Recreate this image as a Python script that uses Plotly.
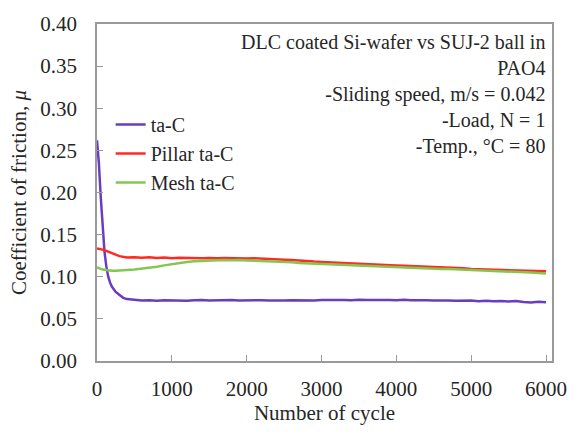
import plotly.graph_objects as go

cycles_early = [0, 25, 50, 75, 100, 125, 150, 175, 200, 250, 300, 350, 400]
cycles_late = list(range(500, 6001, 100))
cycles = cycles_early + cycles_late

ta_c = [0.262, 0.235, 0.195, 0.160, 0.130, 0.112, 0.100, 0.093, 0.088, 0.082, 0.078, 0.075, 0.0735,
        0.0725, 0.0718, 0.0722, 0.0715, 0.0720, 0.0717, 0.0722, 0.0716, 0.0720, 0.0724, 0.0718, 0.0721,
        0.0716, 0.0723, 0.0719, 0.0722, 0.0717, 0.0721, 0.0718, 0.0723, 0.0719, 0.0722, 0.0720, 0.0724,
        0.0719, 0.0723, 0.0726, 0.0721, 0.0725, 0.0722, 0.0727, 0.0723, 0.0726, 0.0721, 0.0724, 0.0722,
        0.0726, 0.0720, 0.0724, 0.0721, 0.0718, 0.0723, 0.0719, 0.0716, 0.0721, 0.0717, 0.0710, 0.0716,
        0.0708, 0.0713, 0.0705, 0.0711, 0.0700, 0.0694, 0.0702, 0.0698]

pillar = [0.1336, 0.1333, 0.1328, 0.1322, 0.1315, 0.1305, 0.1298, 0.1290, 0.1280, 0.1262, 0.1245, 0.1232, 0.1228,
          0.1232, 0.1226, 0.1230, 0.1224, 0.1228, 0.1221, 0.1227, 0.1223, 0.1226, 0.1220, 0.1224, 0.1219,
          0.1223, 0.1218, 0.1221, 0.1216,
          0.1219, 0.1213, 0.1210, 0.1207, 0.1203, 0.1199, 0.1190, 0.1187, 0.1180, 0.1176,
          0.1171, 0.1169, 0.1163, 0.1160, 0.1155, 0.1151, 0.1148, 0.1142, 0.1139, 0.1134,
          0.1131, 0.1128, 0.1122, 0.1119, 0.1115, 0.1110, 0.1108, 0.1103, 0.1100, 0.1092,
          0.1090, 0.1086, 0.1082, 0.1079, 0.1074, 0.1072, 0.1070, 0.1068, 0.1066, 0.1064]

mesh = [0.1110, 0.1100, 0.1090, 0.1085, 0.1082, 0.1078, 0.1076, 0.1074, 0.1072, 0.1070, 0.1071, 0.1075, 0.1080,
        0.1085, 0.1095, 0.1107, 0.1120, 0.1135, 0.1150, 0.1163, 0.1175, 0.1185, 0.1190, 0.1196, 0.1193,
        0.1198, 0.1195, 0.1199, 0.1194,
        0.1191, 0.1187, 0.1184, 0.1180, 0.1176, 0.1171, 0.1164, 0.1160, 0.1154, 0.1150,
        0.1147, 0.1143, 0.1140, 0.1136, 0.1133, 0.1128, 0.1124, 0.1120, 0.1117, 0.1113,
        0.1110, 0.1108, 0.1103, 0.1101, 0.1098, 0.1093, 0.1091, 0.1088, 0.1084, 0.1080,
        0.1076, 0.1072, 0.1068, 0.1065, 0.1061, 0.1057, 0.1054, 0.1050, 0.1045, 0.1040]

series_names = ["ta-C", "Pillar ta-C", "Mesh ta-C"]
series_colors = ["#6a3cc0", "#ff2a22", "#82c850"]

x_ticks = [0, 1000, 2000, 3000, 4000, 5000, 6000]
y_ticks = [0.00, 0.05, 0.10, 0.15, 0.20, 0.25, 0.30, 0.35, 0.40]

FONT = "'Liberation Serif', 'Times New Roman', 'DejaVu Serif', serif"
TXT = "#262626"
AX = "#9a9a9a"

fig = go.Figure()
for name, vals, col in zip(series_names, [ta_c, pillar, mesh], series_colors):
    fig.add_trace(go.Scatter(x=cycles, y=vals, mode="lines", name=name,
                             line=dict(color=col, width=2.5)))

fig.update_layout(
    width=580, height=434,
    margin=dict(l=97, r=28, t=22, b=73),
    paper_bgcolor="white", plot_bgcolor="white",
    font=dict(family=FONT, size=21, color=TXT),
    showlegend=True,
    legend=dict(x=0.03, y=0.76, xanchor="left", yanchor="top",
                bgcolor="rgba(0,0,0,0)", font=dict(family=FONT, size=20, color=TXT),
                tracegroupgap=0, itemwidth=30),
    annotations=[dict(
        x=0.99, y=0.985, xref="paper", yref="paper", xanchor="right", yanchor="top",
        align="right", showarrow=False,
        text="DLC coated Si-wafer vs SUJ-2 ball in<br>PAO4<br>-Sliding speed, m/s = 0.042<br>-Load, N = 1<br>-Temp., °C = 80",
        font=dict(family=FONT, size=20, color=TXT))],
)
fig.update_xaxes(range=[0, 6080], tickvals=x_ticks, ticktext=[str(v) for v in x_ticks],
                 showgrid=False, zeroline=False, showline=True, linecolor=AX, linewidth=1.5,
                 mirror=True, ticks="inside", ticklen=6, tickcolor=AX,
                 ticklabelstandoff=8,
                 title=dict(text="Number of cycle", standoff=4, font=dict(size=21)))
fig.update_yaxes(range=[0, 0.40], tickvals=y_ticks, ticktext=[f"{v:.2f}" for v in y_ticks],
                 showgrid=False, zeroline=False, showline=True, linecolor=AX, linewidth=1.5,
                 mirror=True, ticks="inside", ticklen=6, tickcolor=AX,
                 ticklabelstandoff=14,
                 title=dict(text="Coefficient of friction, <i>μ</i>", standoff=8, font=dict(size=21)))

fig.write_html("out.html")
